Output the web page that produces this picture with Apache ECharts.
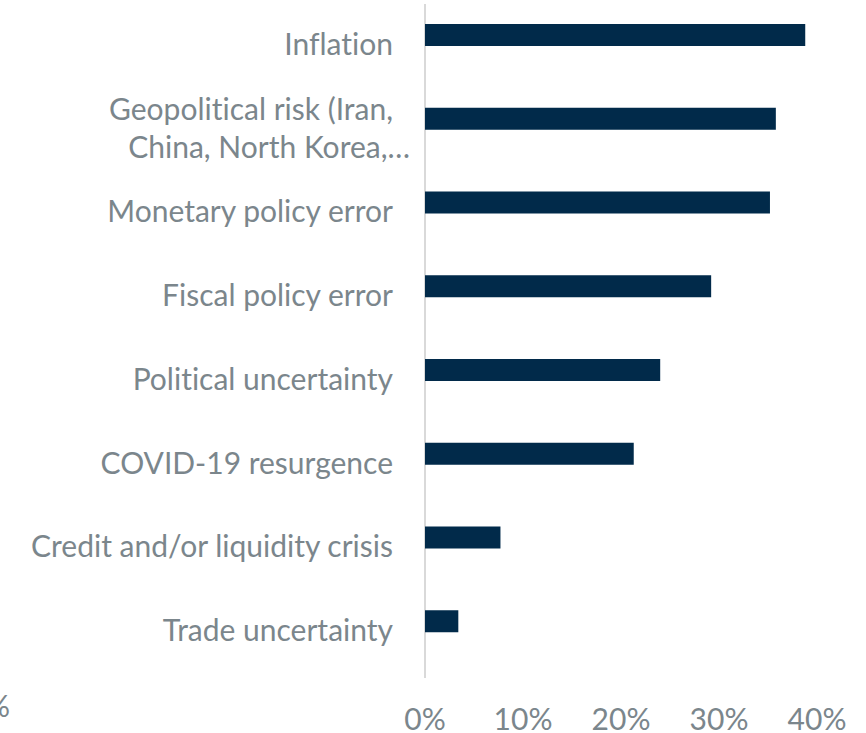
<!DOCTYPE html>
<html>
<head>
<meta charset="utf-8">
<script src="https://cdn.jsdelivr.net/npm/echarts@6/dist/echarts.min.js"></script>
<style>
  html, body { margin: 0; padding: 0; background: #ffffff; overflow: hidden; }
  /* the plot starts a little above the visible area */
  #chart { position: absolute; left: 0; top: -7px; width: 866px; height: 740px; }
  #chart text { font-variant-ligatures: none; }
</style>
</head>
<body>
<div id="chart"></div>
<script>
// Risk categories, listed top to bottom
const categories = [
  'Inflation',
  'Geopolitical risk (Iran, China, North Korea,…',
  'Monetary policy error',
  'Fiscal policy error',
  'Political uncertainty',
  'COVID-19 resurgence',
  'Credit and/or liquidity crisis',
  'Trade uncertainty'
];
// Share of respondents (%)
const shares = [38.8, 35.8, 35.2, 29.2, 24.0, 21.3, 7.7, 3.4];
// Value-axis tick labels
const tickLabels = ['0%', '10%', '20%', '30%', '40%'];

const textColor = '#7b868c';
const fontFamily = 'Lato, "Noto Sans", sans-serif';
const fontSize = 30;

const chart = echarts.init(document.getElementById('chart'), null, { renderer: 'svg' });

chart.setOption({
  animation: false,
  backgroundColor: '#ffffff',
  grid: { left: 425, right: 49, top: 0, bottom: 66, containLabel: false },
  xAxis: {
    type: 'value',
    min: 0,
    max: 40,
    interval: 10,
    axisLine: { show: false },
    axisTick: { show: false },
    splitLine: { show: false },
    axisLabel: {
      margin: 40,
      color: textColor,
      fontFamily: fontFamily,
      fontSize: fontSize,
      formatter: (v) => tickLabels[Math.round(v / 10)]
    }
  },
  yAxis: {
    type: 'category',
    inverse: true,
    data: categories,
    axisLine: { show: false },
    axisTick: { show: false },
    splitLine: { show: false },
    axisLabel: {
      margin: 15,
      color: textColor,
      fontFamily: fontFamily,
      fontSize: fontSize,
      align: 'right',
      padding: [16, 0, 0, 0],
      formatter: (v) => {
        if (v.indexOf('Geopolitical') === 0) {
          return '{a|Geopolitical risk (Iran,}\n{b|China, North Korea,…}';
        }
        return '{a|' + v + '}';
      },
      rich: {
        a: { color: textColor, fontFamily: fontFamily, fontSize: fontSize, lineHeight: 38, padding: [0, 17, 0, 0] },
        b: { color: textColor, fontFamily: fontFamily, fontSize: fontSize, lineHeight: 38 }
      }
    }
  },
  series: [{
    type: 'bar',
    data: shares,
    barWidth: 22,
    itemStyle: { color: '#012a4a' }
  }],
  graphic: [
    {
      // vertical category axis line
      type: 'line',
      shape: { x1: 425, y1: 11, x2: 425, y2: 685 },
      style: { stroke: '#d9d9d9', lineWidth: 2 },
      z: 1
    },
    {
      type: 'text',
      x: 10,
      y: 712,
      style: {
        text: '0%',
        align: 'right',
        verticalAlign: 'middle',
        fill: textColor,
        font: fontSize + 'px ' + fontFamily
      }
    }
  ]
});
</script>
</body>
</html>
